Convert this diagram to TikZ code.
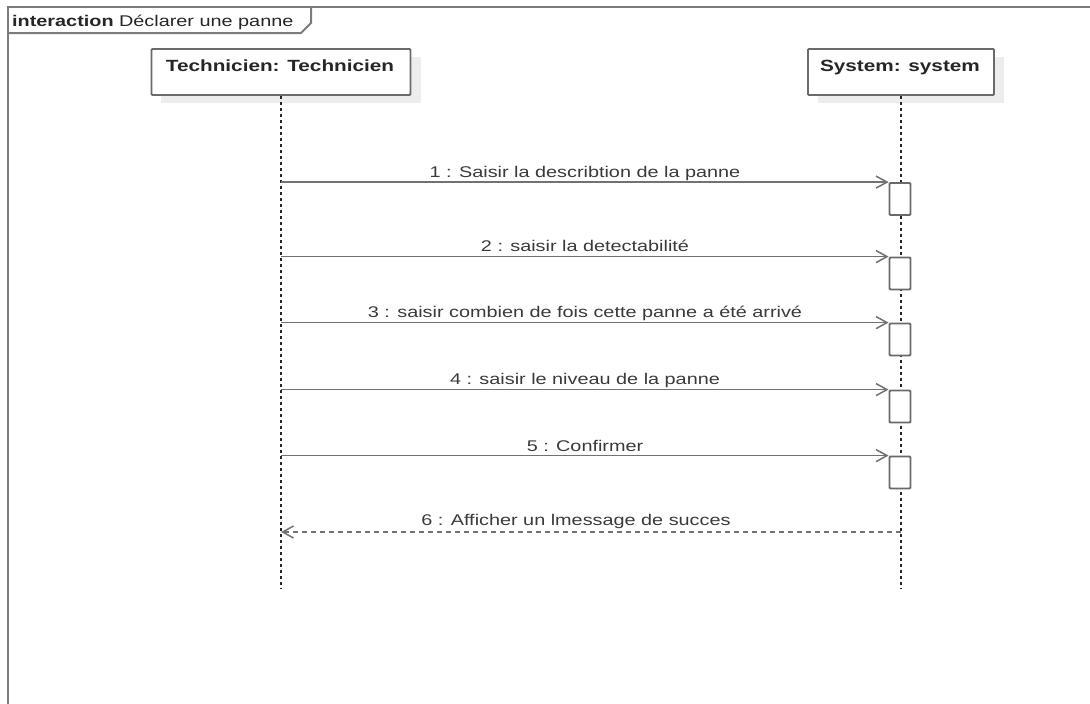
\documentclass[tikz,border=0pt]{standalone}
\usepackage{fontspec}
\setmainfont{Liberation Sans}[FakeStretch=1.28]
\usetikzlibrary{arrows.meta}

\definecolor{framegray}{HTML}{7C7C7C}
\definecolor{boxgray}{HTML}{6A6A6A}
\definecolor{msggray}{HTML}{727272}
\definecolor{shadowgray}{HTML}{EDEDED}
\definecolor{txtgray}{HTML}{3A3A3A}

\tikzset{
  framestyle/.style={draw=framegray, line width=2pt},
  headbox/.style={draw=boxgray, line width=1.8pt, fill=white, rounded corners=1pt,
                  inner sep=0pt, minimum height=46pt},
  headtext/.style={font=\fontsize{16.2}{19}\selectfont\bfseries, text=black!85, anchor=base, inner sep=0pt},
  lifeline/.style={draw=black!85, line width=1.3pt, dash pattern=on 3pt off 3pt},
  actbox/.style={draw=boxgray, line width=1.8pt, fill=white, rounded corners=1pt,
                 inner sep=0pt, minimum width=21pt, minimum height=32pt},
  msg/.style={draw=msggray, line width=1.5pt, -{Straight Barb[length=11pt,width=12pt,line width=1.5pt]}},
  retmsg/.style={draw=msggray, line width=1.5pt, dash pattern=on 5pt off 4pt,
                 -{Straight Barb[length=11pt,width=12pt,line width=1.5pt]}},
  msglabel/.style={font=\fontsize{15.5}{18}\selectfont, text=txtgray, anchor=base, inner sep=0pt},
}

\begin{document}
\begin{tikzpicture}[x=1pt,y=-1pt]
\useasboundingbox (0,0) rectangle (1090,704);
\clip (0,0) rectangle (1090,704);
\fill[white] (0,0) rectangle (1090,704);

% interaction frame and its name tab
\draw[framestyle] (8,720) -- (8,7) -- (1100,7);
\draw[framestyle] (8,33) -- (301,33) -- (311,23) -- (311,7);
\node[font=\fontsize{15.5}{18}\selectfont, text=black!85, anchor=base west, inner sep=0pt]
  (frametitle) at (12,26) {\textbf{interaction} Déclarer une panne};

% lifeline heads with their soft shadows
\fill[shadowgray] (161,57) rectangle (421,103);
\fill[shadowgray] (818,57) rectangle (1004,103);
\node[headbox, minimum width=259pt] (tech) at (281,72) {};
\node[headbox, minimum width=186pt] (sys) at (901,72) {};
\node[headtext] (techname) at (280,71) {Technicien: Technicien};
\node[headtext] (sysname) at (900,71) {System: system};

% end of the lifelines
\coordinate (lend) at (0,588);
\draw[lifeline] (tech.south) -- (tech.south |- lend);
\draw[lifeline] (sys.south) -- (sys.south |- lend);

% activation boxes on the system lifeline
\node[actbox] (act1) at (900,199) {};
\node[actbox] (act2) at (900,273.5) {};
\node[actbox] (act3) at (900,339.5) {};
\node[actbox] (act4) at (900,406.5) {};
\node[actbox] (act5) at (900,472.5) {};

% synchronous messages
\draw[msg] (act1.north west -| tech.south) -- (act1.north west);
\draw[msg] (act2.north west -| tech.south) -- (act2.north west);
\draw[msg] (act3.north west -| tech.south) -- (act3.north west);
\draw[msg] (act4.north west -| tech.south) -- (act4.north west);
\draw[msg] (act5.north west -| tech.south) -- (act5.north west);

\node[msglabel] (m1) at (585,177) {1 : Saisir la describtion de la panne};
\node[msglabel] (m2) at (585,251) {2 : saisir la detectabilité};
\node[msglabel] (m3) at (585,317) {3 : saisir combien de fois cette panne a été arrivé};
\node[msglabel] (m4) at (585,384) {4 : saisir le niveau de la panne};
\node[msglabel] (m5) at (585,451) {5 : Confirmer};

% reply message
\coordinate (r6) at (0,532);
\draw[retmsg] (sys.south |- r6) -- (tech.south |- r6);
\node[msglabel] (m6) at (576,525) {6 : Afficher un lmessage de succes};
\end{tikzpicture}
\end{document}
